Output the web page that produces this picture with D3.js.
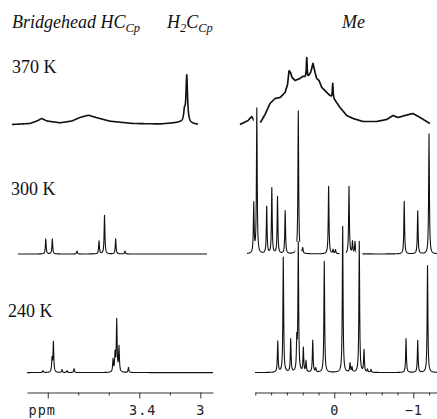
<!DOCTYPE html>
<html>
<head>
<meta charset="utf-8">
<style>
  body { margin: 0; background: #fff; }
  svg { display: block; }
  .lbl { font-family: "Liberation Serif", "Times New Roman", serif; font-size: 18px; fill: #111; }
</style>
</head>
<body>
<svg width="437" height="419"></svg>
<script src="https://d3js.org/d3.v7.min.js"></script>
<script>
// rows of the figure, top to bottom
var temps = ["370 K", "300 K", "240 K"];

// axis ticks (ppm)
var cpTicks = [4.0, 3.8, 3.6, 3.4, 3.2, 3.0];
var cpLabelAt = [4.0, 3.4, 3.0];
var cpLabelText = ["ppm", "3.4", "3"];
var meTicks = [1.0, 0.8, 0.6, 0.4, 0.2, 0, -0.2, -0.4, -0.6, -0.8, -1.0, -1.2];
var meLabelAt = [0, -1.0];
var meLabelText = ["0", "\u22121"];

// spectral windows that each trace covers [from, to] ppm
var cpSpan = [[4.235, 3.015], [4.195, 2.956], [4.136, 2.917]];
var meSpan = [[1.194, -1.211], [1.105, -1.30], [1.004, -1.30]];

// left window, Cp region. broad parts: [ppm, intensity]
var cp370Broad = [[4.235,0],[4.117,1],[4.071,3.5],[4.040,6],[4.005,3.5],[3.920,1.7],[3.842,3.5],
  [3.789,7],[3.734,9.3],[3.684,7],[3.592,3.3],[3.441,1],[3.264,0.5],[3.133,2],[3.015,0]];
// sharp lines: [ppm, intensity]
var cp370Peaks = [[3.104,10],[3.089,47]];
var cp300Peaks = [[4.013,15],[3.970,15],[3.808,3],[3.664,13],[3.628,38.5],[3.555,15],[3.494,3]];
var cp240Peaks = [[4.031,2],[3.972,13],[3.963,30],[3.907,3],[3.874,2],[3.828,4],
  [3.572,12.5],[3.559,18],[3.548,52],[3.533,25],[3.471,5]];

// right window, Me region
var me370Broad = [[1.194,0],[1.092,4],[1.046,8],[1.016,4],[0.990,3],[0.932,2.5],[0.877,10],[0.814,21],
  [0.751,26],[0.687,27],[0.624,32],[0.592,40],[0.573,54],[0.554,52],[0.535,47],[0.497,44],[0.434,46],
  [0.396,48],[0.371,47],[0.333,47],[0.299,52],[0.270,61],[0.244,52],[0.223,46],[0.194,44],[0.159,37],
  [0.096,32],[0.033,27],[-0.009,24],[-0.072,17],[-0.157,9],[-0.237,6],[-0.363,3],[-0.537,3],
  [-0.663,5],[-0.743,9],[-0.806,7],[-0.895,9],[-0.996,11],[-1.085,7],[-1.211,1]];
var me370Peaks = [[0.349,20],[0.020,15]];
var me300Peaks = [[1.020,49.5],[0.981,145],[0.856,47],[0.791,65.5],[0.719,57],[0.622,43],[0.456,143],
  [0.400,5],[0.072,67.5],[0.016,4],[-0.015,4],[-0.186,67.5],[-0.230,12],[-0.262,12],
  [-0.885,52.5],[-1.056,43],[-1.199,120]];
var me240Peaks = [[0.716,31],[0.646,115],[0.552,33],[0.475,30],[0.456,128],[0.392,24],[0.358,11],
  [0.273,32],[0.235,4],[0.127,111],[-0.106,146],[-0.199,9],[-0.224,5],[-0.316,131],[-0.376,22],
  [-0.420,3],[-0.465,3],[-0.908,34],[-1.056,32],[-1.180,107]];

var svg = d3.select("svg");
var rowBase = [124.5, 254, 372.6];
var axisY = 392.5;

var cpX = d3.scaleLinear().domain([4.136, 2.917]).range([27, 213]);
var meX = d3.scaleLinear().domain([1.004, -1.30]).range([255, 437]);

// sample a trace: broad envelope (piecewise) plus lorentzian lines
function trace(xs, span, broad, peaks, hw) {
  var p0 = xs(span[0]), p1 = xs(span[1]);
  var px = d3.range(p0, p1, 0.25).concat([p1]);
  peaks.forEach(function(p) { px.push(xs(p[0])); });
  px.sort(d3.ascending);
  var env = null;
  if (broad) {
    env = d3.scaleLinear().domain(broad.map(function(d) { return d[0]; }))
      .range(broad.map(function(d) { return d[1]; })).clamp(true);
  }
  return px.map(function(x) {
    var ppm = xs.invert(x);
    var h = env ? env(ppm) : 0;
    peaks.forEach(function(p) {
      var d = (ppm - p[0]) / hw;
      h += p[1] / (1 + d * d);
    });
    return [x, h];
  });
}

function drawTrace(pts, row, width) {
  var y = d3.scaleLinear().domain([0, 150]).range([rowBase[row], rowBase[row] - 150]);
  var line = d3.line().x(function(d) { return d[0]; }).y(function(d) { return y(d[1]); });
  svg.append("path").datum(pts)
    .attr("fill", "none").attr("stroke", "#fff").attr("stroke-width", 6)
    .attr("stroke-linejoin", "bevel").attr("d", line);
  svg.append("path").datum(pts)
    .attr("fill", "none").attr("stroke", "#111").attr("stroke-width", width)
    .attr("stroke-linejoin", "round").attr("d", line);
}

var cpHW = 0.003, meHW = 0.0055;
drawTrace(trace(cpX, cpSpan[0], cp370Broad, cp370Peaks, 0.006), 0, 1.6);
drawTrace(trace(meX, meSpan[0], me370Broad, me370Peaks, meHW), 0, 1.7);
drawTrace(trace(cpX, cpSpan[1], null, cp300Peaks, cpHW), 1, 1.1);
drawTrace(trace(meX, meSpan[1], null, me300Peaks, meHW), 1, 1.1);
drawTrace(trace(cpX, cpSpan[2], null, cp240Peaks, cpHW), 2, 1.1);
drawTrace(trace(meX, meSpan[2], null, me240Peaks, meHW), 2, 1.1);

// axes
function drawAxis(xs, ticks, labelAt, labelText) {
  var g = svg.append("g").attr("transform", "translate(0," + axisY + ")")
    .call(d3.axisBottom(xs).tickValues(ticks).tickSize(3).tickSizeOuter(0)
      .tickFormat(function(d) {
        var i = labelAt.indexOf(d);
        return i >= 0 ? labelText[i] : "";
      }));
  g.attr("font-family", "'DejaVu Sans Mono', monospace").attr("font-size", 13.5);
  g.select(".domain").attr("stroke", "#333");
  g.selectAll(".tick line").attr("stroke", "#333")
    .attr("y2", function(d) { return labelAt.indexOf(d) >= 0 ? 6 : 3; });
  g.selectAll(".tick text").attr("y", 13).attr("fill", "#222").attr("letter-spacing", 1)
    .attr("dx", function(d) { return d === 4.0 ? -6 : (d === 3.4 ? 3 : 0); });
}
drawAxis(cpX, cpTicks, cpLabelAt, cpLabelText);
drawAxis(meX, meTicks, meLabelAt, meLabelText);

// headings
var t1 = svg.append("text").attr("class", "lbl").attr("x", 12).attr("y", 28).attr("font-style", "italic");
t1.append("tspan").text("Bridgehead HC");
t1.append("tspan").attr("font-size", 12.5).attr("dy", 4).text("Cp");

var t2 = svg.append("text").attr("class", "lbl").attr("x", 167).attr("y", 28).attr("font-style", "italic");
t2.append("tspan").text("H");
t2.append("tspan").attr("font-size", 12.5).attr("dy", 4).text("2");
t2.append("tspan").attr("dy", -4).text("C");
t2.append("tspan").attr("font-size", 12.5).attr("dy", 4).text("Cp");

svg.append("text").attr("class", "lbl").attr("x", 342).attr("y", 28)
  .attr("font-style", "italic").text("Me");

// temperature labels
var tempX = [12, 11, 8], tempY = [73, 195, 317];
svg.selectAll(".temp").data(temps).enter().append("text")
  .attr("class", "lbl temp")
  .attr("x", function(d, i) { return tempX[i]; })
  .attr("y", function(d, i) { return tempY[i]; })
  .text(function(d) { return d; });
</script>
</body>
</html>
